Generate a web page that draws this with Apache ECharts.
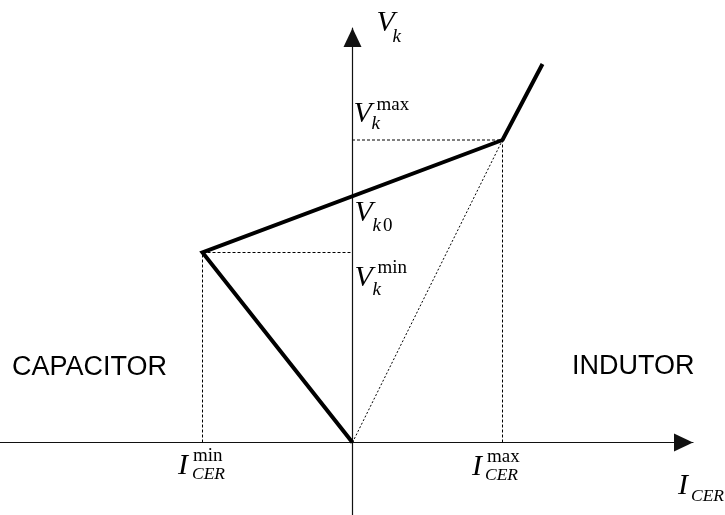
<!DOCTYPE html>
<html>
<head>
<meta charset="utf-8">
<script src="https://cdn.jsdelivr.net/npm/echarts@6/dist/echarts.min.js"></script>
<style>
  html, body { margin: 0; padding: 0; background: #fff; }
  #chart { width: 725px; height: 515px; }
</style>
</head>
<body>
<div id="chart"></div>
<script>
// Static V-I characteristic of the SVC (CER): current on x, voltage on y.
const curveI = [0, -3.0, 3.0, 3.8];       // characteristic break points, current
const curveV = [0, 3.8, 6.05, 7.57];      // characteristic break points, voltage
const limitI = [-3.0, 3.0];               // I_CER min, I_CER max
const limitV = [3.8, 6.05];               // V_k min, V_k max

// Axis extents (arbitrary units)
const xRange = [-7.05, 6.81];
const yRange = [-1.45, 8.29];

// Voltage where the control line crosses the V axis (V_k0)
const v0 = limitV[0] + (limitV[1] - limitV[0]) * (0 - limitI[0]) / (limitI[1] - limitI[0]);

const curveData = curveI.map((x, i) => [x, curveV[i]]);

// Dashed projection lines onto both axes, plus the dotted line from the origin
const guideData = [
  [limitI[0], 0], [limitI[0], limitV[0]], [0, limitV[0]], '-',
  [limitI[1], 0], [limitI[1], limitV[1]], [0, limitV[1]]
];
const diagData = [[0, 0], [limitI[1], limitV[1]]];

// Label anchors in data units
const anchors = {
  vmax: [0, limitV[1]],
  v0:   [0, v0],
  vmin: [0, limitV[0]],
  imin: [limitI[0], 0],
  imax: [limitI[1], 0],
  ytop: [0, yRange[1]],
  xend: [xRange[1], 0]
};

// Pieces of the math labels: [anchor, text, dx, dy, fontSize, italic]
const pieces = [
  ['vmax', 'V', 1, -26, 30, true], ['vmax', 'max', 24, -35, 19, false], ['vmax', 'k', 19, -16, 19, true],
  ['v0', 'V', 2, 17, 30, true], ['v0', 'k', 20, 30, 19, true], ['v0', '0', 30.5, 30, 19, false],
  ['vmin', 'V', 2, 26, 30, true], ['vmin', 'min', 25, 16, 19, false], ['vmin', 'k', 20, 37.5, 19, true],
  ['imin', 'I', -24.5, 23.5, 30, true], ['imin', 'min', -9.5, 14, 19, false], ['imin', 'CER', -10.5, 31.5, 17.5, true],
  ['imax', 'I', -30.5, 25, 30, true], ['imax', 'max', -15.5, 15, 19, false], ['imax', 'CER', -17.5, 33, 17.5, true],
  ['ytop', 'V', 24, -4.5, 30, true], ['ytop', 'k', 40, 9, 19, true],
  ['xend', 'I', -15, 43.5, 30, true], ['xend', 'CER', -2, 53.5, 17.5, true]
];

const chart = echarts.init(document.getElementById('chart'), null, { renderer: 'canvas' });

const axisLine = {
  show: true,
  onZero: true,
  symbol: ['none', 'triangle'],
  symbolSize: [18, 19],
  symbolOffset: [0, -9.5],
  lineStyle: { color: '#111', width: 1.2 }
};

chart.setOption({
  animation: false,
  backgroundColor: '#fff',
  grid: { left: 0, right: 32, top: 28, bottom: 0, containLabel: false },
  xAxis: {
    type: 'value', min: xRange[0], max: xRange[1],
    axisLine: axisLine,
    axisTick: { show: false }, axisLabel: { show: false }, splitLine: { show: false }
  },
  yAxis: {
    type: 'value', min: yRange[0], max: yRange[1],
    axisLine: axisLine,
    axisTick: { show: false }, axisLabel: { show: false }, splitLine: { show: false }
  },
  graphic: [
    { type: 'text', left: 12, top: 354, style: { text: 'CAPACITOR', fontFamily: '"Liberation Sans", Arial, sans-serif', fontSize: 27, fill: '#000' } },
    { type: 'text', left: 572, top: 353, style: { text: 'INDUTOR', fontFamily: '"Liberation Sans", Arial, sans-serif', fontSize: 27, fill: '#000' } }
  ],
  series: [
    {
      type: 'line', data: guideData, symbol: 'none', connectNulls: false, z: 2,
      lineStyle: { color: '#000', width: 1, type: [3, 2] }
    },
    {
      type: 'line', data: diagData, symbol: 'none', z: 2,
      lineStyle: { color: '#000', width: 1, type: [2, 2] }
    },
    {
      type: 'line', data: curveData, symbol: 'none', z: 5,
      lineStyle: { color: '#000', width: 4, join: 'miter', cap: 'butt' }
    },
    {
      type: 'custom', z: 6, silent: true,
      data: pieces.map((p, i) => [anchors[p[0]][0], anchors[p[0]][1], i]),
      renderItem: function (params, api) {
        const p = pieces[api.value(2)];
        const pt = api.coord([api.value(0), api.value(1)]);
        return {
          type: 'text',
          x: pt[0] + p[2],
          y: pt[1] + p[3],
          style: {
            text: p[1],
            fontFamily: '"Liberation Serif", "Times New Roman", serif',
            fontSize: p[4],
            fontStyle: p[5] ? 'italic' : 'normal',
            fill: '#000',
            align: 'left',
            verticalAlign: 'middle'
          }
        };
      }
    }
  ]
});
</script>
</body>
</html>
